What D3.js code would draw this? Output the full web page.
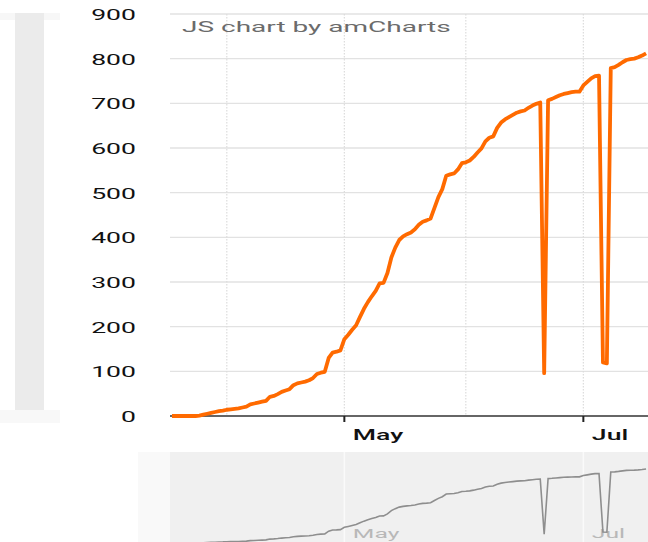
<!DOCTYPE html>
<html>
<head>
<meta charset="utf-8">
<script src="https://cdn.jsdelivr.net/npm/d3@7"></script>
<style>
  html, body { margin: 0; padding: 0; background: #fff; overflow: hidden; }
  text { font-family: Roboto, "Liberation Sans", sans-serif; }
</style>
</head>
<body>
<div id="chart"></div>
<script>
// daily values, one per day starting at firstDay
const firstDay = "2020-03-18";
const values = [
  0, 0, 0, 0, 0, 0, 0, 1, 3, 5,
  7, 9, 11, 12, 14, 15, 16, 17, 19, 21,
  26, 28, 30, 32, 34, 43, 45, 49, 54, 57,
  60, 69, 73, 75, 77, 80, 85, 94, 97, 99,
  130, 142, 144, 147, 172, 182, 193, 203, 222, 240,
  255, 268, 280, 297, 298, 320, 355, 377, 394, 402,
  407, 411, 418, 428, 435, 438, 442, 466, 490, 508,
  538, 541, 543, 552, 566, 568, 572, 580, 590, 599,
  615, 623, 626, 645, 657, 664, 669, 674, 679, 682,
  684, 690, 695, 699, 702, 96, 707, 710, 714, 718,
  721, 723, 725, 726, 726, 740, 748, 756, 761, 762,
  120, 118, 779, 781, 786, 792, 797, 799, 800, 803,
  807, 812
];
const yTicks = [0, 100, 200, 300, 400, 500, 600, 700, 800, 900];
const watermark = "JS chart by amCharts";

const width = 648, height = 542;
const textStretch = 1.9;
const lineColor = "#ff6a00";

const start = new Date(firstDay + "T00:00:00Z");
const data = values.map((v, i) => ({ date: d3.utcDay.offset(start, i), value: v }));

const svg = d3.select("#chart").append("svg")
  .attr("width", width)
  .attr("height", height);

const x = d3.scaleUtc()
  .domain([d3.utcHour.offset(start, -12), d3.utcHour.offset(start, 121 * 24 + 12)])
  .range([170, 648]);
const y = d3.scaleLinear().domain([0, 900]).range([416, 14]);
const yMini = d3.scaleLinear().domain([0, 900]).range([543, 461]);

// left (vertical) scrollbar
svg.append("rect").attr("x", 0).attr("y", 13).attr("width", 60).attr("height", 7).attr("fill", "#f7f7f7");
svg.append("rect").attr("x", 0).attr("y", 410).attr("width", 60).attr("height", 13).attr("fill", "#f8f8f8");
svg.append("rect").attr("x", 15).attr("y", 13).attr("width", 29).attr("height", 397).attr("fill", "#ebebeb");

// horizontal grid
svg.append("g")
  .selectAll("line")
  .data(yTicks.filter(t => t > 0))
  .enter()
  .append("line")
  .attr("x1", 170).attr("x2", 648)
  .attr("y1", d => y(d)).attr("y2", d => y(d))
  .attr("stroke", "#e2e2e2")
  .attr("stroke-width", 1.3);

// vertical grid (every month)
const monthTicks = x.ticks(d3.utcMonth.every(1));
svg.append("g")
  .selectAll("line")
  .data(monthTicks)
  .enter()
  .append("line")
  .attr("x1", d => x(d)).attr("x2", d => x(d))
  .attr("y1", 14).attr("y2", 416)
  .attr("stroke", "#dcdcdc")
  .attr("stroke-width", 1.2)
  .attr("stroke-dasharray", "1.5,1.5");

// y labels
svg.append("g")
  .selectAll("text")
  .data(yTicks)
  .enter()
  .append("text")
  .attr("transform", d => `translate(136, ${y(d) + 6}) scale(${textStretch}, 1)`)
  .attr("text-anchor", "end")
  .attr("font-size", 14)
  .attr("fill", "#111")
  .text(d => d);

// watermark
svg.append("text")
  .attr("transform", `translate(182, 31.5) scale(2, 1)`)
  .attr("font-size", 14)
  .attr("fill", "#6b6b6b")
  .text(watermark);

// main line
const line = d3.line()
  .x(d => x(d.date))
  .y(d => y(d.value));

// x axis baseline and ticks
svg.append("line")
  .attr("x1", 170).attr("x2", 648)
  .attr("y1", 416).attr("y2", 416)
  .attr("stroke", "#333")
  .attr("stroke-width", 1.5);

svg.append("path")
  .datum(data)
  .attr("d", line)
  .attr("fill", "none")
  .attr("stroke", lineColor)
  .attr("stroke-width", 3.8)
  .attr("stroke-linejoin", "round");

const labelTicks = x.ticks(d3.utcMonth.every(2));
const fmt = d3.utcFormat("%b");
const xTicks = svg.append("g")
  .selectAll("g")
  .data(labelTicks)
  .enter()
  .append("g");
xTicks.append("line")
  .attr("x1", d => x(d)).attr("x2", d => x(d))
  .attr("y1", 416).attr("y2", 422)
  .attr("stroke", "#222")
  .attr("stroke-width", 2);
xTicks.append("text")
  .attr("transform", d => `translate(${x(d) + 8.5}, 440) scale(${textStretch}, 1)`)
  .attr("font-size", 14)
  .attr("font-weight", 500)
  .attr("fill", "#111")
  .text(d => fmt(d));

// bottom scrollbar
svg.append("rect").attr("x", 138).attr("y", 452).attr("width", 32).attr("height", 90).attr("fill", "#f9f9f9");
svg.append("rect").attr("x", 170).attr("y", 452).attr("width", 478).attr("height", 90).attr("fill", "#f0f0f0");

const mini = svg.append("g");
mini.selectAll("line")
  .data(labelTicks)
  .enter()
  .append("line")
  .attr("x1", d => x(d)).attr("x2", d => x(d))
  .attr("y1", 452).attr("y2", 542)
  .attr("stroke", "#fafafa")
  .attr("stroke-width", 1.5);
mini.selectAll("text")
  .data(labelTicks)
  .enter()
  .append("text")
  .attr("transform", d => `translate(${x(d) + 8.5}, 538) scale(${textStretch}, 1)`)
  .attr("font-size", 13)
  .attr("fill", "#b8b8b8")
  .text(d => fmt(d));

const miniLine = d3.line()
  .x(d => x(d.date))
  .y(d => yMini(d.value));
mini.append("path")
  .datum(data)
  .attr("d", miniLine)
  .attr("fill", "none")
  .attr("stroke", "#8e8e8e")
  .attr("stroke-width", 1.6);
</script>
</body>
</html>
